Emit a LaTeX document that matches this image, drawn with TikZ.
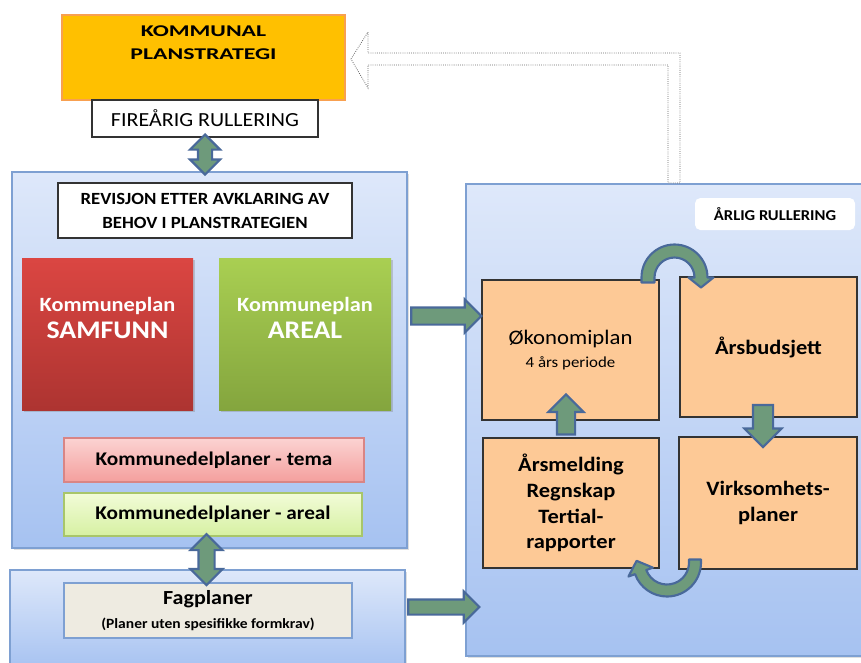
\documentclass[tikz,border=0pt]{standalone}
\usepackage{fontspec}
\setmainfont{Carlito}[FakeStretch=1.1]
\usetikzlibrary{shapes.arrows, calc, shadows}

\definecolor{pilgronn}{HTML}{6E9A7B}
\definecolor{pilbla}{HTML}{49699A}
\definecolor{rammebla}{HTML}{7EA0D2}
\definecolor{lysbla}{HTML}{DEE8FA}
\definecolor{mellombla}{HTML}{A6C2F1}
\definecolor{oransje}{HTML}{FFC000}
\definecolor{oransjekant}{HTML}{F8A050}
\definecolor{rodtopp}{HTML}{DB4642}
\definecolor{rodbunn}{HTML}{AD3431}
\definecolor{gronntopp}{HTML}{A9CF52}
\definecolor{gronnbunn}{HTML}{84A53E}
\definecolor{rosatopp}{HTML}{FBD3D2}
\definecolor{rosabunn}{HTML}{F49F9D}
\definecolor{rosakant}{HTML}{D98585}
\definecolor{lysgronntopp}{HTML}{F2FCD8}
\definecolor{lysgronnbunn}{HTML}{D6F0A2}
\definecolor{lysgronnkant}{HTML}{A8C66A}
\definecolor{beige}{HTML}{EEEBE1}
\definecolor{fersken}{HTML}{FDC996}

\tikzset{
  boks/.style 2 args={minimum width=#1*0.75pt, minimum height=#2*0.75pt,
    inner sep=0pt, outer sep=0pt, align=center},
  omrade/.style={draw=rammebla, line width=0.8pt, top color=lysbla, bottom color=mellombla,
    drop shadow={opacity=0.25, shadow xshift=1.5pt, shadow yshift=-1.5pt}},
  planboks/.style={drop shadow={opacity=0.35, shadow xshift=1.5pt, shadow yshift=-1.5pt}},
  plantekst/.style={text=white, align=center, font=\fontsize{15.2}{20}\selectfont\bfseries},
  delplan/.style={line width=0.8pt, font=\fontsize{14.5}{17}\selectfont\bfseries},
  okoboks/.style={fill=fersken, draw=black!80, line width=0.8pt},
  pil/.style={fill=pilgronn, draw=pilbla, line width=1.6pt, outer sep=0pt, minimum width=0pt},
  enkelpil/.style n args={3}{pil, single arrow, single arrow head extend=#3*0.75pt,
    minimum height=#1*0.75pt, inner xsep=0pt, inner ysep=#2*0.375pt},
  dobbelpil/.style n args={3}{pil, double arrow, double arrow head extend=#3*0.75pt,
    minimum height=#1*0.75pt, inner xsep=0pt, inner ysep=#2*0.375pt},
  buepil/.style={fill=pilgronn, draw=pilbla, line width=1.6pt, line join=round},
  retur/.style={fill=white, draw=black!60, densely dotted, line width=0.6pt},
}

\begin{document}
\begin{tikzpicture}[x=0.75pt, y=-0.75pt]

    \useasboundingbox (0,0) rectangle (861,662);
    \clip (0,0) rectangle (861,662);

    % planstrategi
    \node[boks={283}{85}, fill=oransje, draw=oransjekant, line width=1.2pt] (strategi) at (203.5,57.5) {};
    \node[font=\fontsize{12.3}{17}\selectfont\bfseries\addfontfeature{FakeStretch=1.45}, align=center, anchor=north]
        (strategitekst) at ([yshift=-4.5pt]strategi.north) {KOMMUNAL\\PLANSTRATEGI};
    \node[boks={226}{37}, fill=white, draw=black!80, line width=0.8pt, font=\fontsize{15}{18}\selectfont]
        (fire) at (205,118.5) {FIRE\AA RIG RULLERING};

    % venstre side
    \node[boks={395}{376}, omrade] (venstre) at (209.5,360) {};
    \node[boks={294}{55}, fill=white, draw=black!80, line width=0.8pt, font=\fontsize{12.8}{18}\selectfont\bfseries]
        (revisjon) at (205,210.5) {REVISJON ETTER AVKLARING AV\\BEHOV I PLANSTRATEGIEN};
    \node[boks={171}{152}, planboks, top color=rodtopp, bottom color=rodbunn] (samfunn) at (107.5,334) {};
    \node[plantekst] (samfunntekst) at ([yshift=12pt]samfunn.center)
        {Kommuneplan\\{\fontsize{19}{20}\selectfont SAMFUNN}};
    \node[boks={172}{152}, planboks, top color=gronntopp, bottom color=gronnbunn] (areal) at (305,334) {};
    \node[plantekst] (arealtekst) at ([yshift=12pt]areal.center)
        {Kommuneplan\\{\fontsize{19}{20}\selectfont AREAL}};
    \node[boks={300}{44}, delplan, top color=rosatopp, bottom color=rosabunn, draw=rosakant]
        (tema) at (214,460) {Kommunedelplaner - tema};
    \node[boks={298}{43}, delplan, top color=lysgronntopp, bottom color=lysgronnbunn, draw=lysgronnkant]
        (delareal) at (213,514.5) {Kommunedelplaner - areal};

    \node[boks={395}{100}, omrade] (fagomr) at (207.5,620) {};
    \node[boks={288}{55}, fill=beige, draw=rammebla, line width=0.8pt, font=\fontsize{15}{18}\selectfont\bfseries]
        (fagplaner) at (208,610.5) {Fagplaner\\{\fontsize{10.6}{18}\selectfont (Planer uten spesifikke formkrav)}};

    % hoyre side
    \node[boks={409}{472}, omrade] (hoyre) at (670.5,420) {};
    \node[boks={160}{32}, fill=white, rounded corners=4pt, font=\fontsize{11.3}{13}\selectfont\bfseries]
        (arlig) at (775,214) {\AA RLIG RULLERING};
    \node[boks={177}{140}, okoboks, font=\fontsize{15.5}{17.5}\selectfont] (okonomi) at (570.5,350)
        {\O konomiplan\\{\fontsize{11.5}{14}\selectfont 4 \aa rs periode}};
    \node[boks={177}{140}, okoboks, font=\fontsize{15.3}{19}\selectfont\bfseries] (budsjett) at (768.5,347) {\AA rsbudsjett};
    \node[boks={176}{130}, okoboks, font=\fontsize{15.3}{19.3}\selectfont\bfseries] (arsmelding) at (571,503)
        {\AA rsmelding\\Regnskap\\Tertial-\\rapporter};
    \node[boks={178}{132}, okoboks, font=\fontsize{15.3}{19}\selectfont\bfseries] (virksomhet) at (768,503)
        {Virksomhets-\\planer};

    % piler
    \node[dobbelpil={40}{12}{8}, rotate=90] (pilfire) at ($(fire.south)!0.5!(fire.south |- venstre.north)$) {};
    \node[dobbelpil={51}{14}{8}, rotate=90] (pilfag) at ($(delareal.south)!0.5!(fagplaner.north)+(-4,0)$) {};
    \node[enkelpil={70}{15}{8}] (pilvenstre) at ($(venstre.east)+(35,-44)$) {};
    \node[enkelpil={71}{13}{8}] (pilfag2) at ($(fagomr.east)+(35,-13)$) {};
    \node[enkelpil={42}{18}{8.5}, rotate=-90] (pilned) at ($(budsjett.south)+(-5.5,4)$) {};
    \node[enkelpil={40}{16}{8.5}, rotate=90] (pilopp) at ($(arsmelding.north)+(-5,-19)$) {};

    % buepiler
    \coordinate (bueA) at ($(okonomi.north east)!0.5!(budsjett.north west)+(5,-1)$);
    \draw[buepil] ($(bueA)+(-33,5)$) -- ($(bueA)+(-33,0)$) arc[start angle=180, end angle=360, radius=33]
        -- ($(bueA)+(39,0)$) -- ($(bueA)+(26.5,10)$) -- ($(bueA)+(14,0)$)
        -- ($(bueA)+(20,0)$) arc[start angle=360, end angle=180, radius=20] -- ($(bueA)+(-20,5)$) -- cycle;

    \coordinate (bueB) at ($(okonomi.south east |- arsmelding.south)!0.5!(virksomhet.south west)+(-2,-6)$);
    \draw[buepil] ($(bueB)+(34,-3)$) -- ($(bueB)+(34,0)$) arc[start angle=0, end angle=160, radius=34]
        -- ($(bueB)+(160:41)$) -- ($(bueB)+(160:28)+(250:12)$) -- ($(bueB)+(160:15)$)
        -- ($(bueB)+(160:22)$) arc[start angle=160, end angle=0, radius=22] -- ($(bueB)+(22,-3)$) -- cycle;

    % tilbake til planstrategien
    \coordinate (spiss) at ($(strategi.east)+(6,1.5)$);
    \coordinate (rot) at ($(hoyre.north)+(3.5,-1)$);
    \draw[retur] (spiss) -- ++(17,-27) -- ++(0,21) -| ($(rot)+(6,0)$) -- ($(rot)+(-6,0)$)
        |- ($(spiss)+(17,6)$) -- ++(0,23) -- cycle;

\end{tikzpicture}
\end{document}
